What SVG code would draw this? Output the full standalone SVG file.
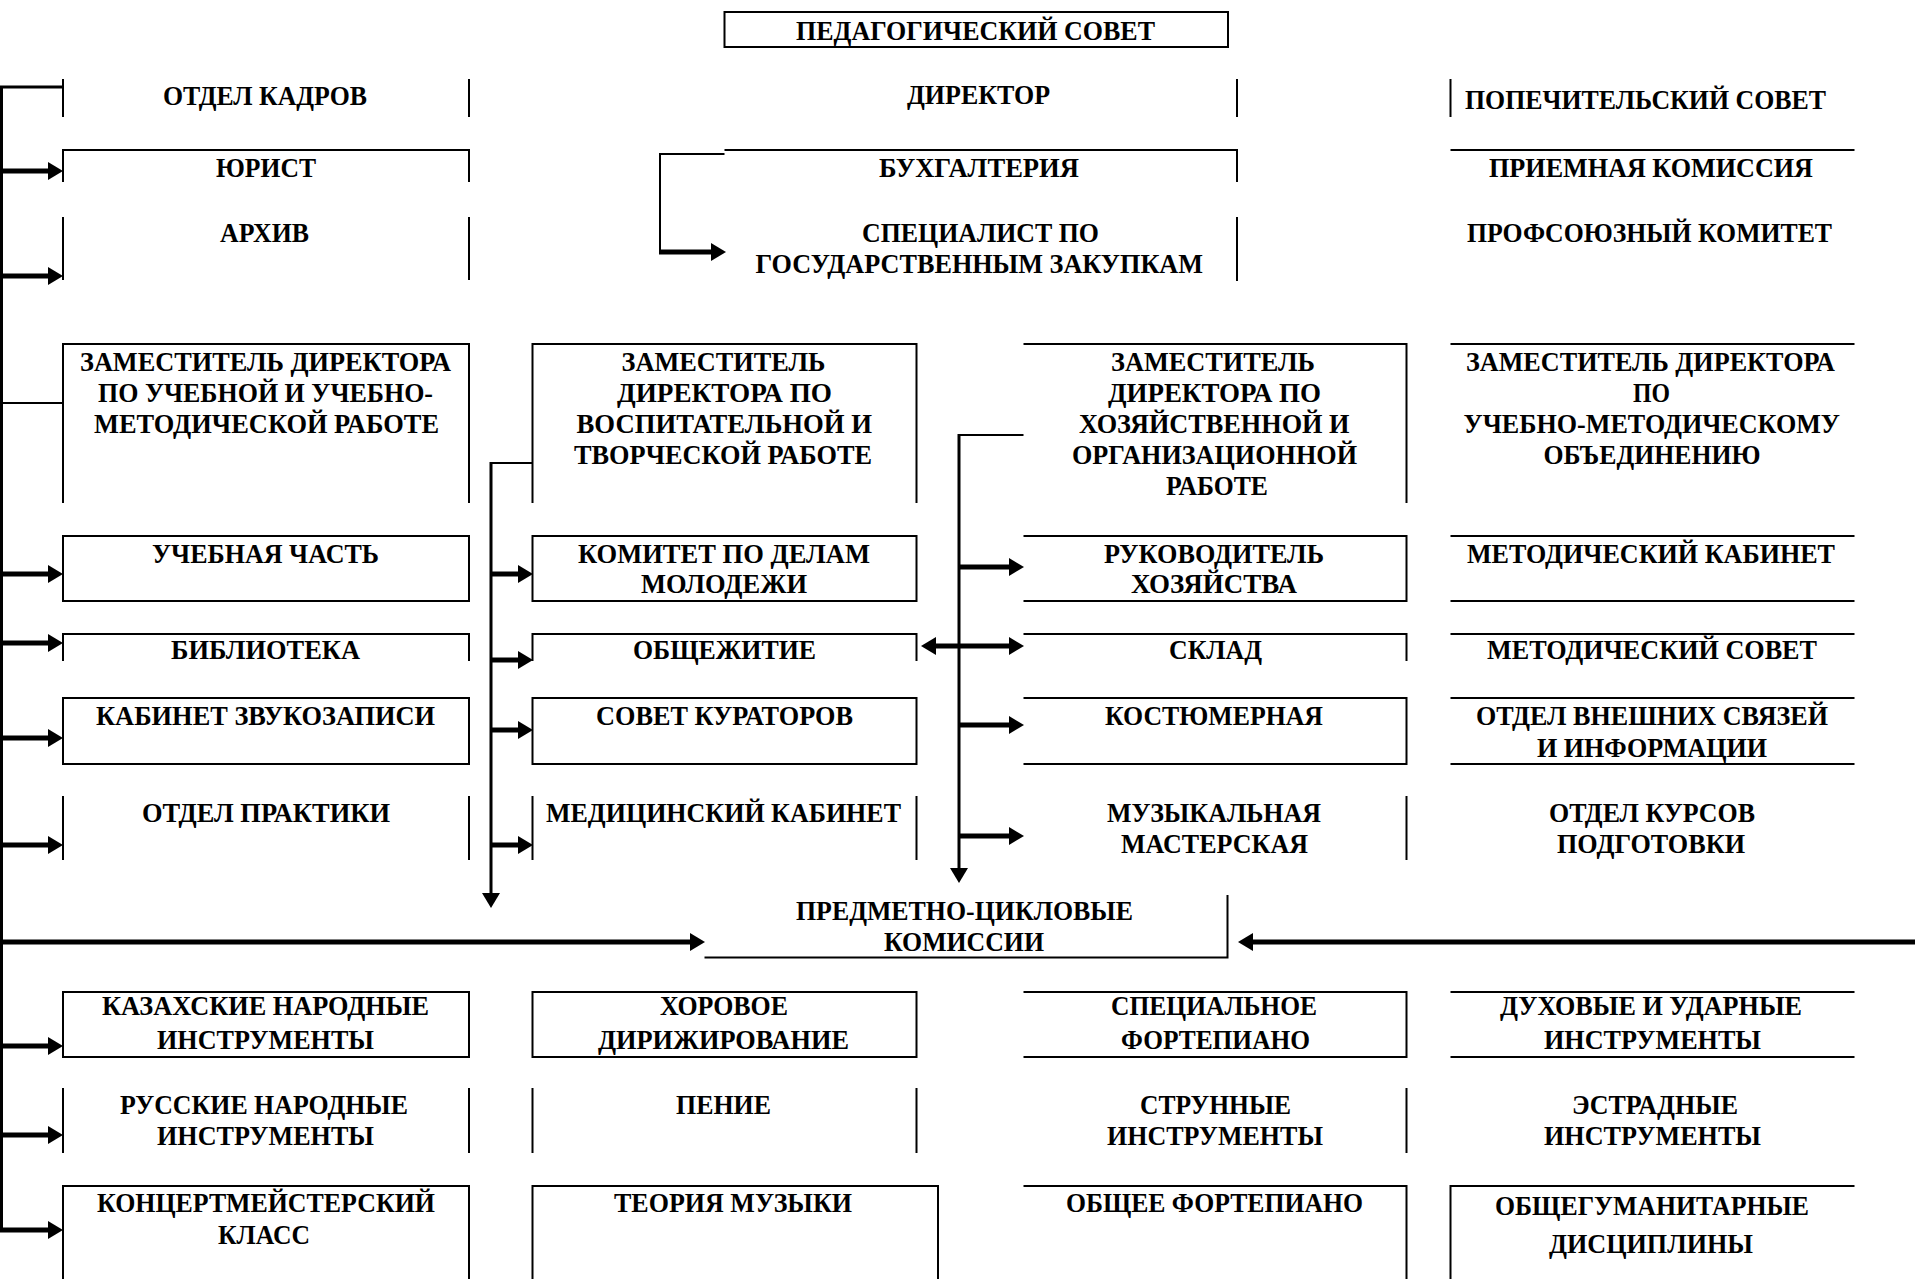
<svg xmlns="http://www.w3.org/2000/svg" width="1915" height="1279" viewBox="0 0 1915 1279">
<style>
.b{stroke:#000;stroke-width:2;fill:none}
.tr{stroke:#000;stroke-width:3;fill:none}
.ar{stroke:#000;stroke-width:5;fill:none;marker-end:url(#ah)}
.bd{stroke:#000;stroke-width:5;fill:none;marker-end:url(#ah);marker-start:url(#ah)}
.dn{stroke:#000;stroke-width:3;fill:none;marker-end:url(#ah)}
text{font-family:"Liberation Serif","Times New Roman",serif;font-weight:bold;font-size:28px;fill:#000}
</style>
<defs>
<marker id="ah" markerUnits="userSpaceOnUse" markerWidth="16" markerHeight="20" refX="1" refY="9" orient="auto-start-reverse" viewBox="0 0 16 20">
<path d="M0,0 L15,9 L0,18 Z" fill="#000"/>
</marker>
</defs>
<rect width="1915" height="1279" fill="#fff"/>

<g id="connectors">
<path class="tr" d="M63,87 H1.5 V1232"/>
<path class="b" d="M63,403 H1.5"/>
<path class="ar" d="M0,171 H49"/>
<path class="ar" d="M0,276 H49"/>
<path class="ar" d="M0,574 H49"/>
<path class="ar" d="M0,643 H49"/>
<path class="ar" d="M0,738 H49"/>
<path class="ar" d="M0,845 H49"/>
<path class="ar" d="M0,1046 H49"/>
<path class="ar" d="M0,1135 H49"/>
<path class="ar" d="M0,1230 H49"/>
<path class="ar" d="M0,942 H691"/>
<path class="ar" d="M1915,942 H1252"/>
<path class="b" d="M724.5,154 H660 V252"/>
<path class="ar" d="M659,252 H712"/>
<path class="b" d="M532.5,463 H491"/>
<path class="dn" d="M491,462 V894"/>
<path class="ar" d="M491,574 H519"/>
<path class="ar" d="M491,660 H519"/>
<path class="ar" d="M491,730 H519"/>
<path class="ar" d="M491,845 H519"/>
<path class="b" d="M1023.5,435 H959"/>
<path class="dn" d="M959,434 V869"/>
<path class="ar" d="M959,567 H1010"/>
<path class="bd" d="M935,646 H1010"/>
<path class="ar" d="M959,725 H1010"/>
<path class="ar" d="M959,836 H1010"/>
</g>

<g id="n-pedsovet"><rect class="b" x="724.5" y="12" width="503.5" height="35"/><text x="796" y="40" textLength="359" lengthAdjust="spacingAndGlyphs">ПЕДАГОГИЧЕСКИЙ СОВЕТ</text></g>

<g id="n-kadry"><path class="b" d="M63,79 V117 M469,79 V117"/><text x="163" y="105" textLength="204" lengthAdjust="spacingAndGlyphs">ОТДЕЛ КАДРОВ</text></g>
<g id="n-director"><path class="b" d="M1237,79 V117"/><text x="907" y="104" textLength="143" lengthAdjust="spacingAndGlyphs">ДИРЕКТОР</text></g>
<g id="n-popech"><path class="b" d="M1450.5,79 V117"/><text x="1465" y="109" textLength="361" lengthAdjust="spacingAndGlyphs">ПОПЕЧИТЕЛЬСКИЙ СОВЕТ</text></g>

<g id="n-yurist"><path class="b" d="M63,182 V150 H469 V182"/><text x="216" y="177" textLength="100" lengthAdjust="spacingAndGlyphs">ЮРИСТ</text></g>
<g id="n-buh"><path class="b" d="M724.5,150 H1237 V182"/><text x="879" y="177" textLength="200" lengthAdjust="spacingAndGlyphs">БУХГАЛТЕРИЯ</text></g>
<g id="n-priem"><path class="b" d="M1450.5,150 H1854.5"/><text x="1489" y="177" textLength="324" lengthAdjust="spacingAndGlyphs">ПРИЕМНАЯ КОМИССИЯ</text></g>

<g id="n-arhiv"><path class="b" d="M63,217 V280 M469,217 V280"/><text x="220" y="242" textLength="89" lengthAdjust="spacingAndGlyphs">АРХИВ</text></g>
<g id="n-spec"><path class="b" d="M1237,217 V281"/><text x="862" y="242" textLength="237" lengthAdjust="spacingAndGlyphs">СПЕЦИАЛИСТ ПО</text><text x="755.5" y="273" textLength="447.5" lengthAdjust="spacingAndGlyphs">ГОСУДАРСТВЕННЫМ ЗАКУПКАМ</text></g>
<g id="n-prof"><text x="1467" y="242" textLength="365" lengthAdjust="spacingAndGlyphs">ПРОФСОЮЗНЫЙ КОМИТЕТ</text></g>

<g id="n-zam-ucheb"><path class="b" d="M63,503 V344 H469 V503"/>
<text x="80" y="371" textLength="371" lengthAdjust="spacingAndGlyphs">ЗАМЕСТИТЕЛЬ ДИРЕКТОРА</text>
<text x="98" y="402" textLength="335" lengthAdjust="spacingAndGlyphs">ПО УЧЕБНОЙ И УЧЕБНО-</text>
<text x="94" y="433" textLength="345" lengthAdjust="spacingAndGlyphs">МЕТОДИЧЕСКОЙ РАБОТЕ</text></g>
<g id="n-zam-vosp"><path class="b" d="M532.5,503 V344 H916.5 V503"/>
<text x="621.5" y="371" textLength="204" lengthAdjust="spacingAndGlyphs">ЗАМЕСТИТЕЛЬ</text>
<text x="617" y="402" textLength="215" lengthAdjust="spacingAndGlyphs">ДИРЕКТОРА ПО</text>
<text x="576.5" y="433" textLength="295.5" lengthAdjust="spacingAndGlyphs">ВОСПИТАТЕЛЬНОЙ И</text>
<text x="574" y="464" textLength="298" lengthAdjust="spacingAndGlyphs">ТВОРЧЕСКОЙ РАБОТЕ</text></g>
<g id="n-zam-hoz"><path class="b" d="M1023.5,344 H1406.5 V503"/>
<text x="1111" y="371" textLength="204" lengthAdjust="spacingAndGlyphs">ЗАМЕСТИТЕЛЬ</text>
<text x="1108" y="402" textLength="213" lengthAdjust="spacingAndGlyphs">ДИРЕКТОРА ПО</text>
<text x="1079" y="433" textLength="270.5" lengthAdjust="spacingAndGlyphs">ХОЗЯЙСТВЕННОЙ И</text>
<text x="1072" y="464" textLength="285" lengthAdjust="spacingAndGlyphs">ОРГАНИЗАЦИОННОЙ</text>
<text x="1166" y="495" textLength="102" lengthAdjust="spacingAndGlyphs">РАБОТЕ</text></g>
<g id="n-zam-umo"><path class="b" d="M1450.5,344 H1854.5"/>
<text x="1466" y="371" textLength="369" lengthAdjust="spacingAndGlyphs">ЗАМЕСТИТЕЛЬ ДИРЕКТОРА</text>
<text x="1633" y="402" textLength="37" lengthAdjust="spacingAndGlyphs">ПО</text>
<text x="1463.5" y="433" textLength="376.5" lengthAdjust="spacingAndGlyphs">УЧЕБНО-МЕТОДИЧЕСКОМУ</text>
<text x="1543.5" y="464" textLength="217" lengthAdjust="spacingAndGlyphs">ОБЪЕДИНЕНИЮ</text></g>

<g id="n-uchchast"><rect class="b" x="63" y="536" width="406" height="65"/><text x="152" y="563" textLength="227" lengthAdjust="spacingAndGlyphs">УЧЕБНАЯ ЧАСТЬ</text></g>
<g id="n-komitet"><rect class="b" x="532.5" y="536" width="384" height="65"/><text x="578" y="563" textLength="292" lengthAdjust="spacingAndGlyphs">КОМИТЕТ ПО ДЕЛАМ</text><text x="641" y="593" textLength="166" lengthAdjust="spacingAndGlyphs">МОЛОДЕЖИ</text></g>
<g id="n-rukovod"><path class="b" d="M1023.5,536 H1406.5 V601 H1023.5"/><text x="1104" y="563" textLength="220" lengthAdjust="spacingAndGlyphs">РУКОВОДИТЕЛЬ</text><text x="1131" y="593" textLength="166" lengthAdjust="spacingAndGlyphs">ХОЗЯЙСТВА</text></g>
<g id="n-metkab"><path class="b" d="M1450.5,536 H1854.5 M1450.5,601 H1854.5"/><text x="1467" y="563" textLength="368" lengthAdjust="spacingAndGlyphs">МЕТОДИЧЕСКИЙ КАБИНЕТ</text></g>

<g id="n-biblio"><path class="b" d="M63,661 V634 H469 V661"/><text x="171" y="659" textLength="189" lengthAdjust="spacingAndGlyphs">БИБЛИОТЕКА</text></g>
<g id="n-obsh"><path class="b" d="M532.5,661 V634 H916.5 V661"/><text x="633" y="659" textLength="183" lengthAdjust="spacingAndGlyphs">ОБЩЕЖИТИЕ</text></g>
<g id="n-sklad"><path class="b" d="M1023.5,634 H1406.5 V661"/><text x="1169" y="659" textLength="93" lengthAdjust="spacingAndGlyphs">СКЛАД</text></g>
<g id="n-metsovet"><path class="b" d="M1450.5,634 H1854.5"/><text x="1487" y="659" textLength="330" lengthAdjust="spacingAndGlyphs">МЕТОДИЧЕСКИЙ СОВЕТ</text></g>

<g id="n-zvuk"><rect class="b" x="63" y="698" width="406" height="66"/><text x="96" y="725" textLength="339" lengthAdjust="spacingAndGlyphs">КАБИНЕТ ЗВУКОЗАПИСИ</text></g>
<g id="n-kurator"><rect class="b" x="532.5" y="698" width="384" height="66"/><text x="596" y="725" textLength="257" lengthAdjust="spacingAndGlyphs">СОВЕТ КУРАТОРОВ</text></g>
<g id="n-kostum"><path class="b" d="M1023.5,698 H1406.5 V764 H1023.5"/><text x="1105" y="725" textLength="218" lengthAdjust="spacingAndGlyphs">КОСТЮМЕРНАЯ</text></g>
<g id="n-vnesh"><path class="b" d="M1450.5,698 H1854.5 M1450.5,764 H1854.5"/><text x="1476" y="725" textLength="352" lengthAdjust="spacingAndGlyphs">ОТДЕЛ ВНЕШНИХ СВЯЗЕЙ</text><text x="1537" y="757" textLength="230" lengthAdjust="spacingAndGlyphs">И ИНФОРМАЦИИ</text></g>

<g id="n-praktika"><path class="b" d="M63,796 V860 M469,796 V860"/><text x="142" y="822" textLength="248" lengthAdjust="spacingAndGlyphs">ОТДЕЛ ПРАКТИКИ</text></g>
<g id="n-med"><path class="b" d="M532.5,796 V860 M916.5,796 V860"/><text x="546" y="822" textLength="355" lengthAdjust="spacingAndGlyphs">МЕДИЦИНСКИЙ КАБИНЕТ</text></g>
<g id="n-muz"><path class="b" d="M1406.5,796 V860"/><text x="1107" y="822" textLength="214" lengthAdjust="spacingAndGlyphs">МУЗЫКАЛЬНАЯ</text><text x="1121" y="853" textLength="187" lengthAdjust="spacingAndGlyphs">МАСТЕРСКАЯ</text></g>
<g id="n-kursy"><text x="1549" y="822" textLength="206" lengthAdjust="spacingAndGlyphs">ОТДЕЛ КУРСОВ</text><text x="1557" y="853" textLength="188" lengthAdjust="spacingAndGlyphs">ПОДГОТОВКИ</text></g>

<g id="n-pck"><path class="b" d="M704.5,957.5 H1227.5 V895"/><text x="796" y="920" textLength="337" lengthAdjust="spacingAndGlyphs">ПРЕДМЕТНО-ЦИКЛОВЫЕ</text><text x="884" y="951" textLength="160" lengthAdjust="spacingAndGlyphs">КОМИССИИ</text></g>

<g id="n-kaz"><rect class="b" x="63" y="992" width="406" height="65"/><text x="102" y="1015" textLength="327" lengthAdjust="spacingAndGlyphs">КАЗАХСКИЕ НАРОДНЫЕ</text><text x="157" y="1049" textLength="217" lengthAdjust="spacingAndGlyphs">ИНСТРУМЕНТЫ</text></g>
<g id="n-horov"><rect class="b" x="532.5" y="992" width="384" height="65"/><text x="660" y="1015" textLength="128" lengthAdjust="spacingAndGlyphs">ХОРОВОЕ</text><text x="598" y="1049" textLength="251" lengthAdjust="spacingAndGlyphs">ДИРИЖИРОВАНИЕ</text></g>
<g id="n-specfort"><path class="b" d="M1023.5,992 H1406.5 V1057 H1023.5"/><text x="1111" y="1015" textLength="206" lengthAdjust="spacingAndGlyphs">СПЕЦИАЛЬНОЕ</text><text x="1121" y="1049" textLength="189" lengthAdjust="spacingAndGlyphs">ФОРТЕПИАНО</text></g>
<g id="n-duh"><path class="b" d="M1450.5,992 H1854.5 M1450.5,1057 H1854.5"/><text x="1500" y="1015" textLength="302" lengthAdjust="spacingAndGlyphs">ДУХОВЫЕ И УДАРНЫЕ</text><text x="1544" y="1049" textLength="217" lengthAdjust="spacingAndGlyphs">ИНСТРУМЕНТЫ</text></g>

<g id="n-rus"><path class="b" d="M63,1088 V1153 M469,1088 V1153"/><text x="120" y="1114" textLength="288" lengthAdjust="spacingAndGlyphs">РУССКИЕ НАРОДНЫЕ</text><text x="157" y="1145" textLength="217" lengthAdjust="spacingAndGlyphs">ИНСТРУМЕНТЫ</text></g>
<g id="n-penie"><path class="b" d="M532.5,1088 V1153 M916.5,1088 V1153"/><text x="676" y="1114" textLength="95" lengthAdjust="spacingAndGlyphs">ПЕНИЕ</text></g>
<g id="n-strun"><path class="b" d="M1406.5,1088 V1153"/><text x="1140" y="1114" textLength="151" lengthAdjust="spacingAndGlyphs">СТРУННЫЕ</text><text x="1107" y="1145" textLength="216" lengthAdjust="spacingAndGlyphs">ИНСТРУМЕНТЫ</text></g>
<g id="n-estr"><text x="1572" y="1114" textLength="166" lengthAdjust="spacingAndGlyphs">ЭСТРАДНЫЕ</text><text x="1544" y="1145" textLength="217" lengthAdjust="spacingAndGlyphs">ИНСТРУМЕНТЫ</text></g>

<g id="n-konc"><path class="b" d="M63,1279 V1186 H469 V1279"/><text x="97" y="1212" textLength="338" lengthAdjust="spacingAndGlyphs">КОНЦЕРТМЕЙСТЕРСКИЙ</text><text x="218" y="1244" textLength="92" lengthAdjust="spacingAndGlyphs">КЛАСС</text></g>
<g id="n-teor"><path class="b" d="M532.5,1279 V1186 H938 V1279"/><text x="614" y="1212" textLength="238" lengthAdjust="spacingAndGlyphs">ТЕОРИЯ МУЗЫКИ</text></g>
<g id="n-obshfort"><path class="b" d="M1023.5,1186 H1406.5 V1279"/><text x="1066" y="1212" textLength="297" lengthAdjust="spacingAndGlyphs">ОБЩЕЕ ФОРТЕПИАНО</text></g>
<g id="n-gum"><path class="b" d="M1450.5,1279 V1186 H1854.5"/><text x="1495" y="1215" textLength="314" lengthAdjust="spacingAndGlyphs">ОБЩЕГУМАНИТАРНЫЕ</text><text x="1549" y="1253" textLength="204" lengthAdjust="spacingAndGlyphs">ДИСЦИПЛИНЫ</text></g>
</svg>
